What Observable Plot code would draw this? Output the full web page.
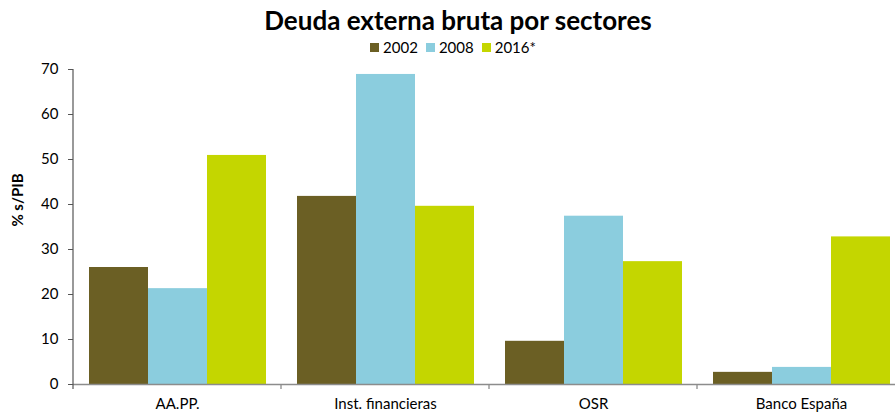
<!DOCTYPE html>
<html>
<head>
<meta charset="utf-8">
<script src="https://cdn.jsdelivr.net/npm/d3@7"></script>
<script src="https://cdn.jsdelivr.net/npm/@observablehq/plot@0.6"></script>
<style>
  body { margin: 0; background: #fff; font-family: Lato, "Open Sans", sans-serif; }
  #wrap { position: relative; width: 895px; height: 417px; overflow: hidden; }
  #title { position: absolute; left: 0; top: 4px; width: 895px; padding-left: 21px; box-sizing: border-box;
           text-align: center; font-weight: bold; font-size: 26px; line-height: 32px; color: #000; }
  #legend { position: absolute; left: 0; top: 37px; width: 895px; padding-left: 11px; box-sizing: border-box;
            display: flex; justify-content: center; font-size: 15px; line-height: 20px; color: #000; }
  #legend span.item { display: inline-flex; align-items: center; margin: 0 4px; }
  #legend span.sw { display: inline-block; width: 9px; height: 9px; margin-right: 4px; }
  #ylabel { position: absolute; left: 17px; top: 200px; transform: translate(-50%, -50%) rotate(-90deg);
            font-weight: bold; font-size: 15px; white-space: nowrap; color: #000; z-index: 2; }
  #chart { position: absolute; left: 0; top: 58px; z-index: 1; }
</style>
</head>
<body>
<div id="wrap">
  <div id="title"></div>
  <div id="legend"></div>
  <div id="chart"></div>
  <div id="ylabel"></div>
</div>
<script>
const titleText = "Deuda externa bruta por sectores";
const yLabel = "% s/PIB";
const categories = ["AA.PP.", "Inst. financieras", "OSR", "Banco España"];
const years = ["2002", "2008", "2016*"];
const v2002 = [26.0, 41.8, 9.6, 2.7];
const v2008 = [21.3, 68.9, 37.4, 3.8];
const v2016 = [50.9, 39.6, 27.3, 32.8];
const colors = ["#6B5F24", "#8BCDDE", "#C4D600"];
const yTicks = [0, 10, 20, 30, 40, 50, 60, 70];

const series = [v2002, v2008, v2016];
const data = categories.flatMap((c, i) => years.map((y, j) => ({cat: c, year: y, value: series[j][i]})));

document.getElementById("title").textContent = titleText;
document.getElementById("ylabel").textContent = yLabel;
const legend = document.getElementById("legend");
years.forEach((y, j) => {
  const it = document.createElement("span");
  it.className = "item";
  const sw = document.createElement("span");
  sw.className = "sw";
  sw.style.background = colors[j];
  it.appendChild(sw);
  it.appendChild(document.createTextNode(y));
  legend.appendChild(it);
});

const plot = Plot.plot({
  width: 895,
  height: 359,
  marginLeft: 72,
  marginRight: -10,
  marginTop: 11,
  marginBottom: 33,
  style: {fontFamily: "Lato, 'Open Sans', sans-serif", fontSize: "15px", color: "#000", background: "transparent"},
  fx: {domain: categories, padding: 0, label: null},
  x: {domain: years, paddingInner: 0, paddingOuter: 0.245, axis: null},
  y: {domain: [0, 70], label: null},
  color: {domain: years, range: colors},
  marks: [
    Plot.barY(data, {fx: "cat", x: "year", y: "value", fill: "year", inset: 0}),
    Plot.ruleY([0], {stroke: "#8c8c8c", strokeWidth: 1.3}),
    Plot.axisY({ticks: yTicks, tickSize: 5, tickPadding: 10, label: null, stroke: "#555", fontSize: 15}),
    Plot.axisFx({anchor: "bottom", tickSize: 0, tickPadding: 14, label: null, fontSize: 15})
  ]
});
document.getElementById("chart").appendChild(plot);

// axis line and category boundary ticks, from the plot's own scales
const svg = d3.select(plot);
const ys = plot.scale("y");
const fx = plot.scale("fx");
const y0 = ys.apply(0), yTop = ys.apply(70);
const g = svg.append("g");
const starts = categories.map(c => fx.apply(c));
const bw = fx.bandwidth;
g.append("line").attr("x1", starts[0]).attr("x2", starts[0]).attr("y1", yTop).attr("y2", y0 + 5)
  .attr("stroke", "#555").attr("stroke-width", 1.2);
starts.slice(1).concat([starts[starts.length - 1] + bw]).forEach(x => {
  g.append("line").attr("x1", x).attr("x2", x).attr("y1", y0).attr("y2", y0 + 5)
    .attr("stroke", "#8c8c8c").attr("stroke-width", 1.3);
});
</script>
</body>
</html>
